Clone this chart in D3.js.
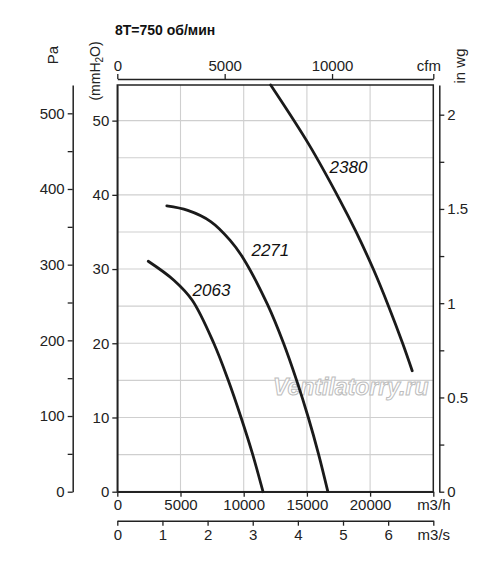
<!DOCTYPE html>
<html>
<head>
<meta charset="utf-8">
<script src="https://cdn.jsdelivr.net/npm/d3@7"></script>
<style>
  body { margin: 0; background: #fff; }
  svg { display: block; }
  text { font-family: "Liberation Sans", Arial, sans-serif; fill: #222; }
</style>
</head>
<body>
<svg id="chart" width="500" height="580"></svg>
<script>
// ---- data (flow in m3/h, pressure in mmH2O) ----
const curveNames = ["2063", "2271", "2380"];
const flow2063 = [2447, 4476, 5929, 7634, 8771, 9790, 10698, 11527];
const press2063 = [31.05, 28.5, 25.8, 20.0, 15.05, 10.0, 5.1, 0];
const flow2271 = [3916, 5574, 7390, 8913, 9948, 11890, 13153, 14187, 15111, 15916, 16658];
const press2271 = [38.5, 37.9, 36.4, 33.9, 31.5, 25.2, 20.0, 15.0, 10.0, 5.1, 0];
const flow2380 = [12135, 15190, 17606, 18893, 20251, 21459, 22572, 23330];
const press2380 = [54.8, 46.7, 39.3, 35.0, 30.0, 25.0, 20.0, 16.3];

const titleText = "8T=750 об/мин";
const m3hTicks = [0, 5000, 10000, 15000, 20000, 25000];
const m3sTicks = [0, 1, 2, 3, 4, 5, 6, 7];
const cfmTicks = [0, 5000, 10000];
const mmTicks = [0, 10, 20, 30, 40, 50];
const paTicks = [0, 50, 100, 150, 200, 250, 300, 350, 400, 450, 500];
const inwgTicks = [0, 0.25, 0.5, 0.75, 1, 1.25, 1.5, 1.75, 2];
const flowMax = 25000, m3sMax = 7, mmMax = 54.8;
const CFM_PER_M3H = 0.5886, PA_PER_MM = 9.80665, MM_PER_INWG = 25.4;

// ---- layout ----
const L = 117.3, R = 433.3, T = 85, B = 491.7;
const svg = d3.select("#chart");
const x = d3.scaleLinear().domain([0, flowMax]).range([L, R]);
const xs = d3.scaleLinear().domain([0, m3sMax]).range([L, R]);
const xc = d3.scaleLinear().domain([0, flowMax * CFM_PER_M3H]).range([L, R]);
const y = d3.scaleLinear().domain([0, mmMax]).range([B, T]);
const yPa = d3.scaleLinear().domain([0, mmMax * PA_PER_MM]).range([B, T]);
const yIn = d3.scaleLinear().domain([0, mmMax / MM_PER_INWG]).range([B, T]);

const AX = "#222";
const fs = 15;

// gridlines
const g = svg.append("g");
g.selectAll(".vg").data(m3hTicks.slice(1, -1)).join("line")
  .attr("x1", d => x(d)).attr("x2", d => x(d)).attr("y1", T).attr("y2", B)
  .attr("stroke", "#cfcfcf").attr("stroke-width", 1.1);
g.selectAll(".hg").data(d3.range(5, mmMax, 5)).join("line")
  .attr("x1", L).attr("x2", R).attr("y1", d => y(d)).attr("y2", d => y(d))
  .attr("stroke", "#cfcfcf").attr("stroke-width", 1.1);

// watermark
svg.append("text").attr("x", 273).attr("y", 395)
  .attr("font-size", 23).attr("font-weight", "bold").attr("font-style", "italic")
  .style("fill", "#fff").attr("stroke", "#bdbdbd").attr("stroke-width", 1)
  .text("Ventilatorry.ru");

// frame
svg.append("rect").attr("x", L).attr("y", T).attr("width", R - L).attr("height", B - T)
  .attr("fill", "none").attr("stroke", AX).attr("stroke-width", 1.5);

function styleAxis(sel) {
  sel.selectAll("path.domain").attr("stroke", AX).attr("stroke-width", 1.5);
  sel.selectAll(".tick line").attr("stroke", AX).attr("stroke-width", 1.3);
  sel.selectAll(".tick text").attr("font-size", fs).style("font-family", '"Liberation Sans", Arial, sans-serif').style("fill", "#222");
}

// bottom m3/h
svg.append("g").attr("transform", `translate(0,${B})`)
  .call(d3.axisBottom(x).tickValues(m3hTicks).tickSize(5).tickSizeOuter(0).tickPadding(3)
    .tickFormat(d => d === flowMax ? "m3/h" : d3.format("d")(d)))
  .call(styleAxis);
// m3/s
svg.append("g").attr("transform", `translate(0,520.7)`)
  .call(d3.axisBottom(xs).tickValues(m3sTicks).tickSize(5).tickSizeOuter(0).tickPadding(3.5)
    .tickFormat(d => d === m3sMax ? "m3/s" : d))
  .call(styleAxis);
// cfm top
const cfmAll = cfmTicks.concat([flowMax * CFM_PER_M3H]);
svg.append("g").attr("transform", `translate(0,79)`)
  .call(d3.axisTop(xc).tickValues(cfmAll).tickSize(5).tickSizeOuter(0).tickPadding(3.5)
    .tickFormat((d, i) => i === cfmAll.length - 1 ? "cfm" : d3.format("d")(d)))
  .call(styleAxis)
  .call(s => s.selectAll(".tick text").filter(d => d > 12000).attr("dx", -5));
// mmH2O left
svg.append("g").attr("transform", `translate(${L},0)`)
  .call(d3.axisLeft(y).tickValues(mmTicks).tickSize(5).tickSizeOuter(0).tickPadding(3))
  .call(styleAxis);
// Pa
svg.append("g").attr("transform", `translate(72.7,0)`)
  .call(d3.axisLeft(yPa).tickValues(paTicks).tickSize(5).tickSizeOuter(0).tickPadding(3)
    .tickFormat(d => d % 100 === 0 ? d : ""))
  .call(styleAxis);
// in wg
svg.append("g").attr("transform", `translate(439.3,0)`)
  .call(d3.axisRight(yIn).tickValues(inwgTicks).tickSize(5).tickSizeOuter(0).tickPadding(3)
    .tickFormat(d => (d * 2) % 1 === 0 ? d3.format("")(d) : ""))
  .call(styleAxis);

// curves
const series = [
  { name: curveNames[0], q: flow2063, p: press2063 },
  { name: curveNames[1], q: flow2271, p: press2271 },
  { name: curveNames[2], q: flow2380, p: press2380 }
];
const line = d3.line().x(d => x(d[0])).y(d => y(d[1])).curve(d3.curveCatmullRom.alpha(0.5));
svg.selectAll(".curve").data(series).join("path")
  .attr("d", s => line(s.q.map((q, i) => [q, s.p[i]])))
  .attr("fill", "none").attr("stroke", "#1a1a1a").attr("stroke-width", 2.8)
  .attr("stroke-linecap", "round");

// curve labels (placement in chart units)
const labelPos = { "2063": [5953, 26.4], "2271": [10611, 31.8], "2380": [16793, 43.0] };
svg.selectAll(".clab").data(series).join("text")
  .attr("x", s => x(labelPos[s.name][0])).attr("y", s => y(labelPos[s.name][1]))
  .attr("font-size", 17).attr("font-style", "italic")
  .style("fill", "#111")
  .text(s => s.name);

// title & axis titles
svg.append("text").attr("x", 115).attr("y", 35).attr("font-size", 14).attr("font-weight", "bold")
  .style("fill", "#111").text(titleText);
svg.append("text").attr("transform", "translate(58,55) rotate(-90)").attr("text-anchor", "middle")
  .attr("font-size", 15).text("Pa");
const mmT = svg.append("text").attr("transform", "translate(100,71) rotate(-90)").attr("text-anchor", "middle")
  .attr("font-size", 14);
mmT.append("tspan").text("(mmH");
mmT.append("tspan").attr("font-size", 10).attr("dy", 3).text("2");
mmT.append("tspan").attr("dy", -3).text("O)");
svg.append("text").attr("transform", "translate(465,66) rotate(-90)").attr("text-anchor", "middle")
  .attr("font-size", 15).text("in wg");
</script>
</body>
</html>
